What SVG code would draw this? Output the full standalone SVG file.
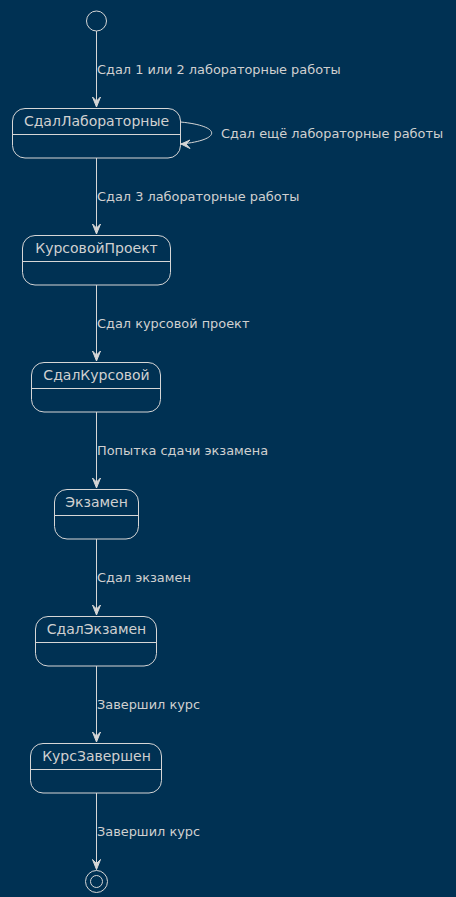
<svg xmlns="http://www.w3.org/2000/svg" width="456" height="897" viewBox="0 0 456 897">
<style>
.bg{fill:#003153}
.st rect{fill:#003153;stroke:#d6d6d6;stroke-width:1}
.st line{stroke:#d6d6d6;stroke-width:1}
.st text{font-family:"DejaVu Sans",sans-serif;font-size:14px;fill:#d0d0d0;text-anchor:middle}
.edges path.l{fill:none;stroke:#d6d6d6;stroke-width:1}
.edges path.h{fill:#d6d6d6;stroke:#d6d6d6;stroke-width:1}
.edges text{font-family:"DejaVu Sans",sans-serif;font-size:12.9px;fill:#d0d0d0}
</style>
<rect class="bg" x="0" y="0" width="456" height="897"/>
<g id="start"><circle cx="96.5" cy="21" r="10" fill="#003153" stroke="#d6d6d6" stroke-width="1"/></g>
<g id="SdalLab" class="st"><rect x="12.5" y="108.5" width="168" height="49.5" rx="12.5"/><line x1="12.5" y1="134.5" x2="180.5" y2="134.5"/><text x="96.5" y="126">СдалЛабораторные</text></g>
<g id="KursProekt" class="st"><rect x="22.5" y="235.5" width="148" height="49.5" rx="12.5"/><line x1="22.5" y1="261.5" x2="170.5" y2="261.5"/><text x="96.5" y="253">КурсовойПроект</text></g>
<g id="SdalKurs" class="st"><rect x="31.5" y="362.5" width="129" height="49.5" rx="12.5"/><line x1="31.5" y1="388.5" x2="160.5" y2="388.5"/><text x="96.5" y="380">СдалКурсовой</text></g>
<g id="Ekzamen" class="st"><rect x="54.5" y="489.5" width="84" height="49.5" rx="12.5"/><line x1="54.5" y1="515.5" x2="138.5" y2="515.5"/><text x="96.5" y="507">Экзамен</text></g>
<g id="SdalEkz" class="st"><rect x="35.5" y="616.5" width="121" height="49.5" rx="12.5"/><line x1="35.5" y1="642.5" x2="156.5" y2="642.5"/><text x="96.5" y="634">СдалЭкзамен</text></g>
<g id="KursZav" class="st"><rect x="30.5" y="743.5" width="131" height="49.5" rx="12.5"/><line x1="30.5" y1="769.5" x2="161.5" y2="769.5"/><text x="96.5" y="761">КурсЗавершен</text></g>
<g id="end"><circle cx="96.5" cy="881.5" r="11" fill="none" stroke="#d6d6d6" stroke-width="1"/><circle cx="96.5" cy="881.5" r="6" fill="none" stroke="#d6d6d6" stroke-width="1"/></g>
<g class="edges">
<path class="l" d="M96.5,31 V107"/><path class="h" d="M92.5,97 L96.5,107 L100.5,97 L96.5,101 Z"/>
<text x="97" y="74">Сдал 1 или 2 лабораторные работы</text>
<path class="l" d="M180.5,122 C222,126 222,140 181,144"/><path class="h" d="M190,140 L181,144 L190,148.5 L186,144 Z"/>
<text x="221" y="137.5">Сдал ещё лабораторные работы</text>
<path class="l" d="M96.5,158 V234"/><path class="h" d="M92.5,224 L96.5,234 L100.5,224 L96.5,228 Z"/>
<text x="97" y="200.5">Сдал 3 лабораторные работы</text>
<path class="l" d="M96.5,285 V361"/><path class="h" d="M92.5,351 L96.5,361 L100.5,351 L96.5,355 Z"/>
<text x="97" y="328">Сдал курсовой проект</text>
<path class="l" d="M96.5,412 V488"/><path class="h" d="M92.5,478 L96.5,488 L100.5,478 L96.5,482 Z"/>
<text x="97" y="455">Попытка сдачи экзамена</text>
<path class="l" d="M96.5,539 V615"/><path class="h" d="M92.5,605 L96.5,615 L100.5,605 L96.5,609 Z"/>
<text x="97" y="582">Сдал экзамен</text>
<path class="l" d="M96.5,666 V742"/><path class="h" d="M92.5,732 L96.5,742 L100.5,732 L96.5,736 Z"/>
<text x="97" y="709">Завершил курс</text>
<path class="l" d="M96.5,793 V869.5"/><path class="h" d="M92.5,859.5 L96.5,869.5 L100.5,859.5 L96.5,863.5 Z"/>
<text x="97" y="836">Завершил курс</text>
</g>
</svg>
